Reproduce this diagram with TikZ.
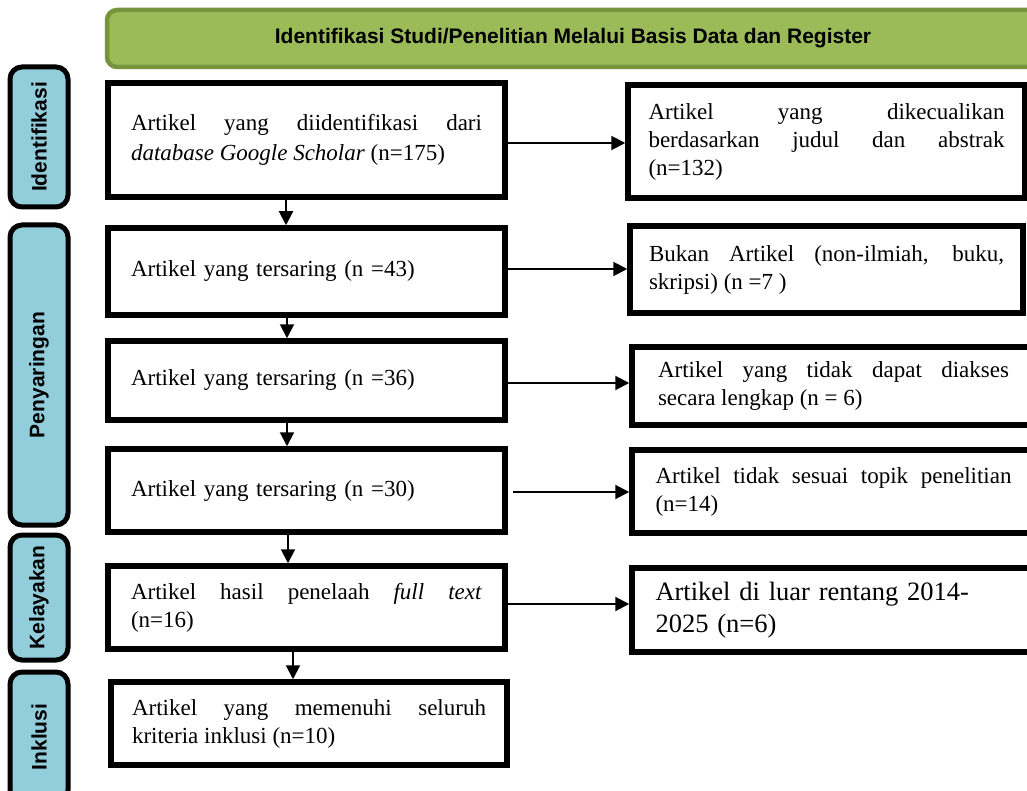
\documentclass[tikz,border=0pt]{standalone}
\usepackage{fontspec}
\setmainfont{Liberation Serif}
\setsansfont{Liberation Sans}
\usetikzlibrary{arrows.meta}
\definecolor{bannerfill}{HTML}{9BBB59}
\definecolor{bannerline}{HTML}{77933C}
\definecolor{labelfill}{HTML}{92CDDC}
\setlength{\parindent}{0pt}
\hbadness=10000
\begin{document}
\begin{tikzpicture}[x=1pt,y=-1pt,
  mainbox/.style={draw=black,line width=5.5pt,fill=white,inner sep=0pt,
    font=\fontsize{23}{28}\selectfont},
  jtext/.style={text width=#1,align=justify},
  ltext/.style={text width=#1,align=left},
  labelbox/.style={draw=black,line width=5pt,fill=labelfill,rounded corners=12pt,
    inner sep=0pt,rotate=90,minimum height=58pt,
    font=\sffamily\bfseries\fontsize{21}{25}\selectfont},
  arr/.style={line width=2pt,-{Triangle[length=14pt,width=14pt]}},
]
\clip (0,0) rectangle (1027,791);
\fill[white] (0,0) rectangle (1027,791);

% banner
\node[draw=bannerline,line width=4.5pt,fill=bannerfill,rounded corners=10pt,
  minimum width=932pt,minimum height=57pt,inner sep=0pt,
  font=\sffamily\bfseries\fontsize{21}{25}\selectfont] (banner) at (573,38.5)
  {Identifikasi Studi/Penelitian Melalui Basis Data dan Register};

% side labels
\node[labelbox,minimum width=140pt] (lab1) at (39,137) {Identifikasi};
\node[labelbox,minimum width=300pt] (lab2) at (39,375) {Penyaringan};
\node[labelbox,minimum width=125pt] (lab3) at (39,597.5) {Kelayakan};
\node[labelbox,minimum width=130pt] (lab4) at (39,737) {Inklusi};

% main column
\node[mainbox,minimum width=397pt,minimum height=114pt,jtext=351pt,
  font=\fontsize{23}{29.5}\selectfont] (b1) at (306.5,140)
  {Artikel yang diidentifikasi dari\linebreak \textit{database Google Scholar} (n=175)};
\node[mainbox,minimum width=397pt,minimum height=87pt,ltext=351pt] (b2) at (306.5,271.5)
  {Artikel yang tersaring (n =43)};
\node[mainbox,minimum width=397pt,minimum height=79pt,ltext=351pt] (b3) at (306.5,380.5)
  {Artikel yang tersaring (n =36)};
\node[mainbox,minimum width=397pt,minimum height=83pt,ltext=351pt] (b4) at (306.5,490.5)
  {Artikel yang tersaring (n =30)};
\node[mainbox,minimum width=397pt,minimum height=83pt,jtext=351pt] (b5) at (306.5,607.5)
  {Artikel hasil penelaah \textit{full text}\linebreak (n=16)};
\node[mainbox,minimum width=396pt,minimum height=83pt,jtext=354pt] (b6) at (309,723.5)
  {Artikel yang memenuhi seluruh\linebreak kriteria inklusi (n=10)};

% right column
\node[mainbox,minimum width=397pt,minimum height=113pt,jtext=356pt] (r1) at (826.5,141.5)
  {Artikel yang dikecualikan\linebreak berdasarkan judul dan abstrak\linebreak (n=132)};
\node[mainbox,minimum width=393pt,minimum height=87pt,jtext=355pt] (r2) at (826.5,269.5)
  {Bukan Artikel (non-ilmiah, buku,\linebreak skripsi) (n =7 )};
\node[mainbox,minimum width=403pt,minimum height=78pt,jtext=351pt] (r3) at (833.5,386)
  {Artikel yang tidak dapat diakses\linebreak secara lengkap (n = 6)};
\node[mainbox,minimum width=403pt,minimum height=83pt,jtext=356pt] (r4) at (833.5,491.5)
  {Artikel tidak sesuai topik penelitian\linebreak (n=14)};
\node[mainbox,minimum width=403pt,minimum height=84pt,ltext=356pt,
  font=\fontsize{26.5}{32}\selectfont] (r5) at (833.5,610)
  {Artikel di luar rentang 2014-\\2025 (n=6)};

% horizontal arrows
\draw[arr] ([yshift=-3pt]b1.east) -- ([yshift=-3pt]b1.east -| r1.west);
\draw[arr] ([yshift=2.5pt]b2.east) -- ([yshift=2.5pt]b2.east -| r2.west);
\draw[arr] ([yshift=-2.5pt]b3.east) -- ([yshift=-2.5pt]b3.east -| r3.west);
\draw[arr] ([xshift=5pt,yshift=-1.5pt]b4.east) -- ([yshift=-1.5pt]b4.east -| r4.west);
\draw[arr] ([yshift=3.5pt]b5.east) -- ([yshift=3.5pt]b5.east -| r5.west);

% vertical arrows
\draw[arr] ([xshift=-20.5pt]b1.south) -- ([xshift=-20.5pt]b1.south |- b2.north);
\draw[arr] ([xshift=-19.5pt]b2.south) -- ([xshift=-19.5pt]b2.south |- b3.north);
\draw[arr] ([xshift=-19.5pt]b3.south) -- ([xshift=-19.5pt]b3.south |- b4.north);
\draw[arr] ([xshift=-18.5pt]b4.south) -- ([xshift=-18.5pt]b4.south |- b5.north);
\draw[arr] ([xshift=-13.5pt]b5.south) -- ([xshift=-13.5pt]b5.south |- b6.north);
\end{tikzpicture}
\end{document}
